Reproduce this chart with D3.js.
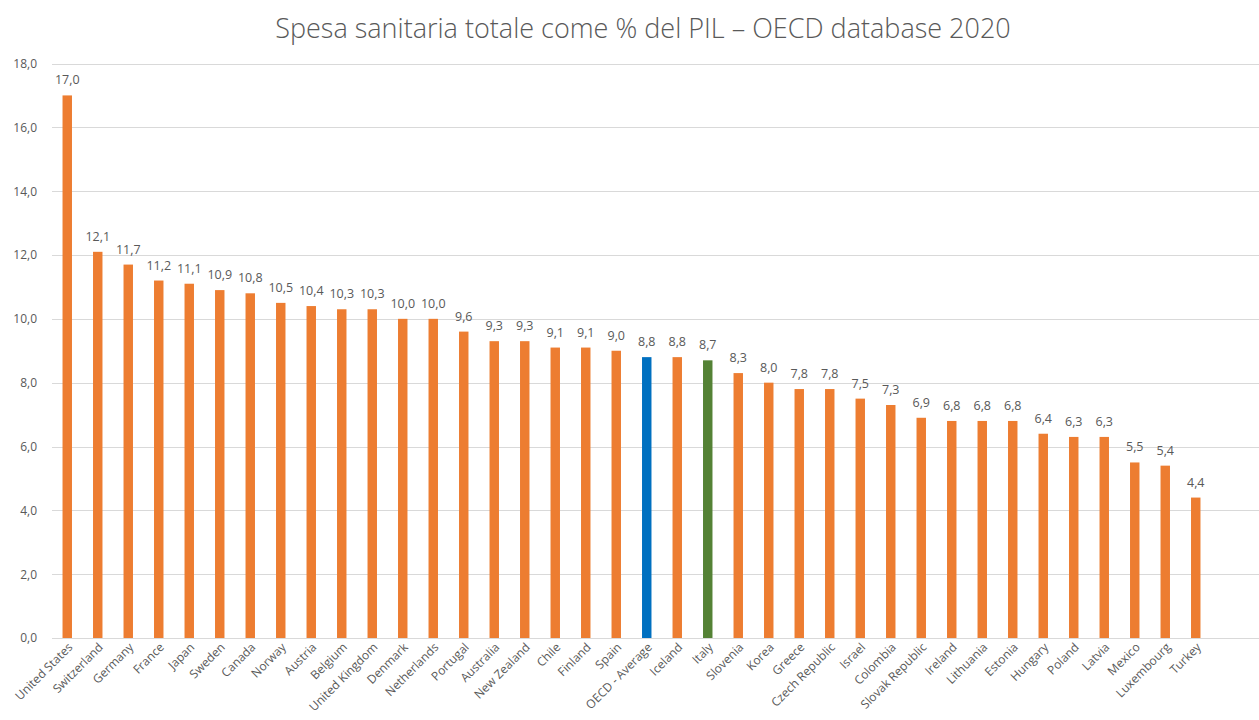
<!DOCTYPE html>
<html>
<head>
<meta charset="utf-8">
<script src="https://cdn.jsdelivr.net/npm/d3@7"></script>
<style>
  body { margin: 0; background: #fff; }
  text { font-family: "Open Sans", "Lato", sans-serif; fill: #595959; }
  .grid line { stroke: #d9d9d9; }
</style>
</head>
<body>
<script>
//chart data
var countries = ["United States", "Switzerland", "Germany", "France", "Japan", "Sweden", "Canada",
    "Norway", "Austria", "Belgium", "United Kingdom", "Denmark", "Netherlands", "Portugal",
    "Australia", "New Zealand", "Chile", "Finland", "Spain", "OECD - Average", "Iceland", "Italy",
    "Slovenia", "Korea", "Greece", "Czech Republic", "Israel", "Colombia", "Slovak Republic",
    "Ireland", "Lithuania", "Estonia", "Hungary", "Poland", "Latvia", "Mexico", "Luxembourg", "Turkey"];

var values = [17.0, 12.1, 11.7, 11.2, 11.1, 10.9, 10.8, 10.5, 10.4, 10.3, 10.3, 10.0, 10.0, 9.6,
    9.3, 9.3, 9.1, 9.1, 9.0, 8.8, 8.8, 8.7, 8.3, 8.0, 7.8, 7.8, 7.5, 7.3, 6.9,
    6.8, 6.8, 6.8, 6.4, 6.3, 6.3, 5.5, 5.4, 4.4];

var yTicks = [0, 2, 4, 6, 8, 10, 12, 14, 16, 18];

var title = "Spesa sanitaria totale come % del PIL \u2013 OECD database 2020";

//colours: highlight average and Italy
function barColor(name){
    if (name == "OECD - Average") return "#0070c0";
    if (name == "Italy") return "#548235";
    return "#ed7d31";
};

var width = 1259,
    height = 720;

var svg = d3.select("body")
    .append("svg")
    .attr("width", width)
    .attr("height", height);

var x = d3.scaleBand()
    .domain(countries)
    .range([52, 52 + countries.length * 30.5])
    .paddingInner(0.69)
    .paddingOuter(0.345);

var y = d3.scaleLinear()
    .domain([0, 18])
    .range([638, 63.5]);

var fmt = function(v){ return d3.format(".1f")(v).replace(".", ","); };

//title
svg.append("text")
    .attr("x", 643)
    .attr("y", 38)
    .attr("text-anchor", "middle")
    .style("font-size", "27px")
    .style("font-weight", "300")
    .text(title);

//gridlines
svg.append("g")
    .attr("class", "grid")
    .selectAll("line")
    .data(yTicks)
    .enter()
    .append("line")
    .attr("x1", 52)
    .attr("x2", width)
    .attr("y1", function(d){ return Math.round(y(d)) + 0.5; })
    .attr("y2", function(d){ return Math.round(y(d)) + 0.5; });

//y axis labels
var yAxis = svg.append("g")
    .attr("transform", "translate(40,0)")
    .call(d3.axisLeft(y).tickValues(yTicks).tickFormat(fmt).tickSize(0).tickPadding(3));
yAxis.select(".domain").remove();
yAxis.selectAll("text")
    .style("font-size", "12px")
    .style("fill", "#595959")
    .style("font-family", "\"Open Sans\", sans-serif");

//bars
svg.selectAll(".bar")
    .data(countries)
    .enter()
    .append("rect")
    .attr("class", "bar")
    .attr("x", function(d){ return x(d); })
    .attr("width", x.bandwidth())
    .attr("y", function(d, i){ return y(values[i]); })
    .attr("height", function(d, i){ return y(0) - y(values[i]); })
    .style("fill", barColor);

//value labels
svg.selectAll(".val")
    .data(countries)
    .enter()
    .append("text")
    .attr("class", "val")
    .attr("x", function(d){ return x(d) + x.bandwidth() / 2; })
    .attr("y", function(d, i){ return y(values[i]) - 11; })
    .attr("text-anchor", "middle")
    .style("font-size", "12.5px")
    .text(function(d, i){ return fmt(values[i]); });

//category labels, rotated
svg.selectAll(".cat")
    .data(countries)
    .enter()
    .append("text")
    .attr("class", "cat")
    .attr("text-anchor", "end")
    .attr("transform", function(d){
        return "translate(" + (x(d) + x.bandwidth() / 2 + 6) + ",648) rotate(-45)";
    })
    .style("font-size", "12px")
    .text(function(d){ return d; });
</script>
</body>
</html>
